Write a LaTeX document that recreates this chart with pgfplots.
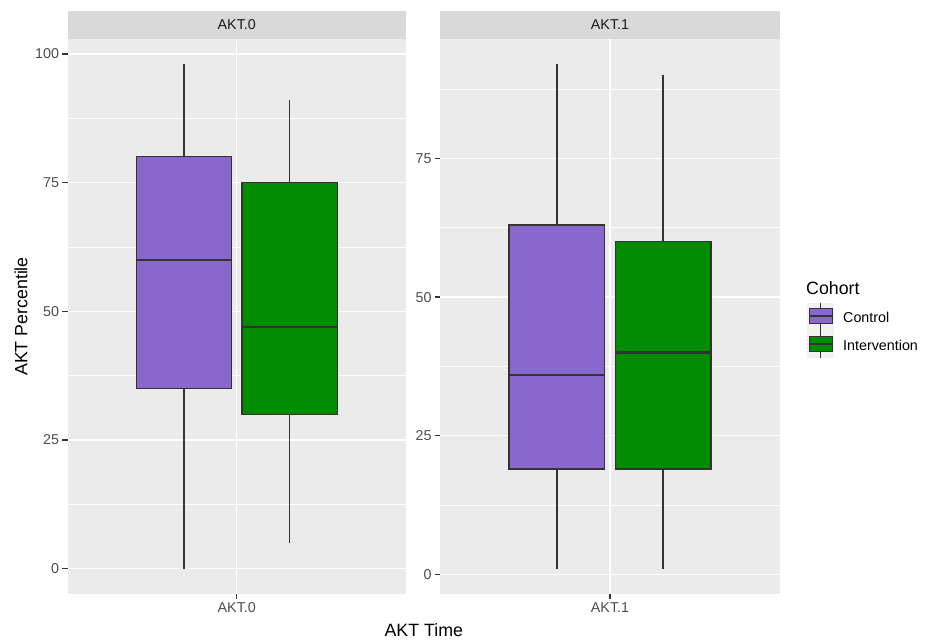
\documentclass[border=0pt]{standalone}
\usepackage{fontspec}
\setmainfont{Liberation Sans}
\usepackage{pgfplots}
\pgfplotsset{compat=1.18}
\definecolor{ctrl}{RGB}{137,104,205}
\definecolor{intv}{RGB}{0,139,0}
\definecolor{panel}{RGB}{235,235,235}
\definecolor{stripc}{RGB}{217,217,217}
\definecolor{keybg}{RGB}{242,242,242}
\definecolor{g30}{RGB}{77,77,77}
\definecolor{g20}{RGB}{51,51,51}
\definecolor{g10}{RGB}{26,26,26}
\newcommand{\tickfont}{\fontsize{14.3}{16}\selectfont}
\newcommand{\titlefont}{\fontsize{17.8}{20}\selectfont}
\pgfplotsset{
  gg/.style={
    scale only axis, height=555pt,
    anchor=south west,
    axis background/.style={fill=panel},
    axis line style={draw=none},
    xmin=0.4, xmax=1.6, xtick={1},
    xtick pos=left, ytick pos=left,
    tick align=outside,
    major tick length=5pt,
    minor tick style={draw=none},
    major tick style={draw=g20, line width=1.2pt},
    xmajorgrids, ymajorgrids, yminorgrids,
    major grid style={white, line width=1.3pt},
    minor grid style={white, line width=0.7pt},
    ticklabel style={font=\tickfont, text=g30},
    /pgf/number format/assume math mode=true,
  },
  wh/.style={g20, line width=1.3pt},
  bx/.style={draw=g20, line width=1.2pt},
  md/.style={g20, line width=2.2pt},
}
\begin{document}
\begin{tikzpicture}
\useasboundingbox (0,0) rectangle (927pt,642pt);
% Left panel
\begin{axis}[gg, at={(67.5pt,48pt)}, width=338.5pt,
  ymin=-4.9, ymax=102.9,
  ytick={0,25,50,75,100},
  minor ytick={12.5,37.5,62.5,87.5},
  xticklabels={AKT.0}]
  % Control: min 0, Q1 35, med 60, Q3 80, max 98
  \addplot[wh] coordinates {(0.8125,80) (0.8125,98)};
  \addplot[wh] coordinates {(0.8125,0) (0.8125,35)};
  \addplot[bx, fill=ctrl] coordinates {(0.64375,35) (0.98125,35) (0.98125,80) (0.64375,80)} -- cycle;
  \addplot[md] coordinates {(0.64375,60) (0.98125,60)};
  % Intervention: min 5, Q1 30, med 47, Q3 75, max 91
  \addplot[wh] coordinates {(1.1875,75) (1.1875,91)};
  \addplot[wh] coordinates {(1.1875,5) (1.1875,30)};
  \addplot[bx, fill=intv] coordinates {(1.01875,30) (1.35625,30) (1.35625,75) (1.01875,75)} -- cycle;
  \addplot[md] coordinates {(1.01875,47) (1.35625,47)};
\end{axis}
% Right panel
\begin{axis}[gg, at={(440pt,48pt)}, width=340pt,
  ymin=-3.55, ymax=96.55,
  ytick={0,25,50,75},
  minor ytick={12.5,37.5,62.5,87.5},
  xticklabels={AKT.1}]
  % Control: min 1, Q1 19, med 36, Q3 63, max 92
  \addplot[wh] coordinates {(0.8125,63) (0.8125,92)};
  \addplot[wh] coordinates {(0.8125,1) (0.8125,19)};
  \addplot[bx, fill=ctrl] coordinates {(0.64375,19) (0.98125,19) (0.98125,63) (0.64375,63)} -- cycle;
  \addplot[md] coordinates {(0.64375,36) (0.98125,36)};
  % Intervention: min 1, Q1 19, med 40, Q3 60, max 90
  \addplot[wh] coordinates {(1.1875,60) (1.1875,90)};
  \addplot[wh] coordinates {(1.1875,1) (1.1875,19)};
  \addplot[bx, fill=intv] coordinates {(1.01875,19) (1.35625,19) (1.35625,60) (1.01875,60)} -- cycle;
  \addplot[md] coordinates {(1.01875,40) (1.35625,40)};
\end{axis}
% strips
\fill[stripc] (67.5pt,603pt) rectangle (406pt,631pt);
\node[text=g10, font=\tickfont] at (236.75pt,617pt) {AKT.0};
\fill[stripc] (440pt,603pt) rectangle (780pt,631pt);
\node[text=g10, font=\tickfont] at (610pt,617pt) {AKT.1};
% axis titles
\node[rotate=90, font=\titlefont, inner sep=0] at (21pt,325.5pt) {AKT Percentile};
\node[font=\titlefont, inner sep=0] at (423.75pt,12pt) {AKT Time};
% legend
\node[anchor=west, font=\titlefont, inner sep=0] at (806pt,354pt) {Cohort};
\fill[keybg] (806.7pt,339.3pt) rectangle (834pt,311.5pt);
\fill[keybg] (806.7pt,311.5pt) rectangle (834pt,283.7pt);
\draw[g20, line width=1pt] (820.35pt,339.3pt) -- (820.35pt,311.5pt);
\draw[g20, line width=1pt, fill=ctrl] (809.3pt,333.7pt) rectangle (832pt,318pt);
\draw[g20, line width=1.6pt] (809.3pt,325.85pt) -- (832pt,325.85pt);
\draw[g20, line width=1pt] (820.35pt,311.5pt) -- (820.35pt,283.7pt);
\draw[g20, line width=1pt, fill=intv] (809.3pt,305.9pt) rectangle (832pt,290.2pt);
\draw[g20, line width=1.6pt] (809.3pt,298.05pt) -- (832pt,298.05pt);
\node[anchor=west, font=\tickfont, inner sep=0] at (843pt,324.5pt) {Control};
\node[anchor=west, font=\tickfont, inner sep=0] at (843pt,296.6pt) {Intervention};
\end{tikzpicture}
\end{document}
